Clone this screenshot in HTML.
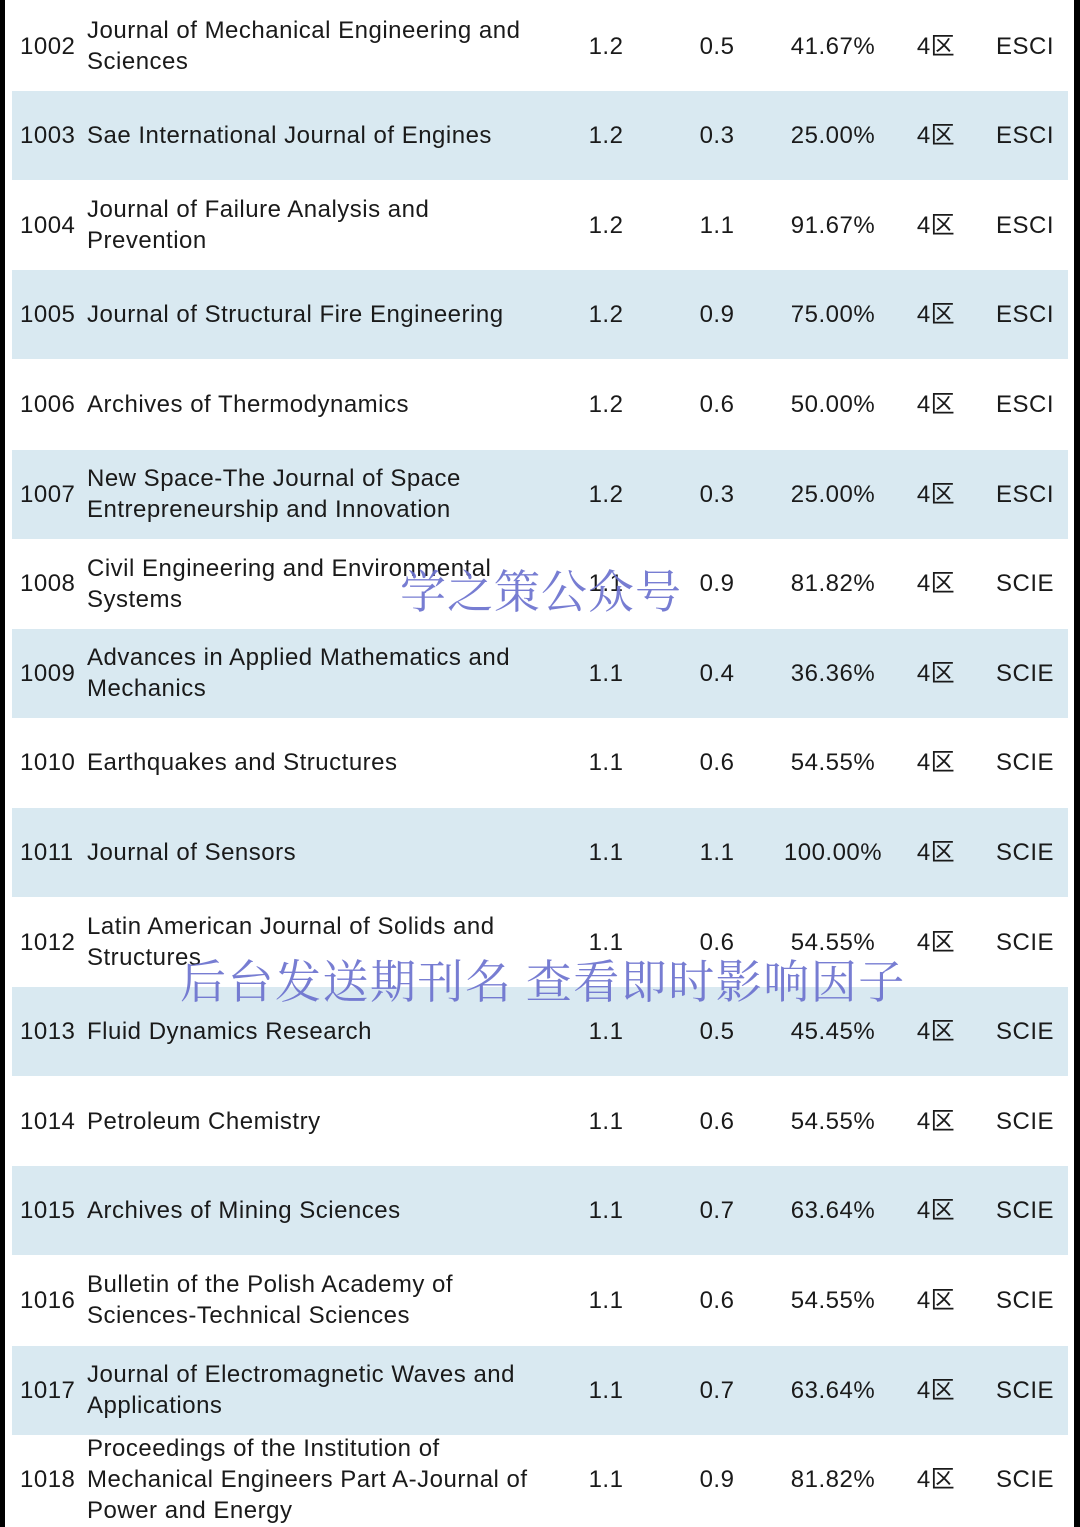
<!DOCTYPE html>
<html><head><meta charset="utf-8"><style>
body{margin:0;width:1080px;height:1527px;overflow:hidden;background:#fff;position:relative;font-family:"Liberation Sans","Noto Sans CJK SC",sans-serif;color:#1a1a1a}
.bl{position:absolute;left:0;top:0;width:5px;height:1527px;background:#000}
.br{position:absolute;right:0;top:0;width:6px;height:1527px;background:#000}
.row{position:absolute;left:12px;width:1056px;height:89px}
.row.s{background:#d9e9f1}
.c{position:absolute;top:0;height:89px;display:flex;align-items:center;font-size:24px;line-height:31px;letter-spacing:0.5px;white-space:nowrap}
.id{left:8px}
.nm{left:75px;width:480px}
.num{justify-content:center}
.wm{position:absolute;font-family:"Noto Serif CJK SC",serif;color:#6c72cf;opacity:.92;white-space:nowrap}
</style></head><body>
<div class="bl"></div>
<div class="br"></div>
<div id="tbl"></div>
<div class="wm" style="left:400px;top:556px;font-size:46px;letter-spacing:1px">学之策公众号</div>
<div class="wm" style="left:180px;top:946px;font-size:46px;letter-spacing:1.5px">后台发送期刊名 查看即时影响因子</div>
<script>
const ids=[1002,1003,1004,1005,1006,1007,1008,1009,1010,1011,1012,1013,1014,1015,1016,1017,1018];
const names=["Journal of Mechanical Engineering and<br>Sciences","Sae International Journal of Engines","Journal of Failure Analysis and<br>Prevention","Journal of Structural Fire Engineering","Archives of Thermodynamics","New Space-The Journal of Space<br>Entrepreneurship and Innovation","Civil Engineering and Environmental<br>Systems","Advances in Applied Mathematics and<br>Mechanics","Earthquakes and Structures","Journal of Sensors","Latin American Journal of Solids and<br>Structures","Fluid Dynamics Research","Petroleum Chemistry","Archives of Mining Sciences","Bulletin of the Polish Academy of<br>Sciences-Technical Sciences","Journal of Electromagnetic Waves and<br>Applications","Proceedings of the Institution of<br>Mechanical Engineers Part A-Journal of<br>Power and Energy"];
const ifs=["1.2","1.2","1.2","1.2","1.2","1.2","1.1","1.1","1.1","1.1","1.1","1.1","1.1","1.1","1.1","1.1","1.1"];
const v2=["0.5","0.3","1.1","0.9","0.6","0.3","0.9","0.4","0.6","1.1","0.6","0.5","0.6","0.7","0.6","0.7","0.9"];
const pct=["41.67%","25.00%","91.67%","75.00%","50.00%","25.00%","81.82%","36.36%","54.55%","100.00%","54.55%","45.45%","54.55%","63.64%","54.55%","63.64%","81.82%"];
const zone=Array(17).fill("4区");
const idx=["ESCI","ESCI","ESCI","ESCI","ESCI","ESCI","SCIE","SCIE","SCIE","SCIE","SCIE","SCIE","SCIE","SCIE","SCIE","SCIE","SCIE"];
const rowH=89.6, top0=1.5;
const tbl=document.getElementById('tbl');
function cell(row,cls,html,center,name){
  const d=document.createElement('div');
  d.className='c '+cls;
  if(center!==null){d.style.left=(center-12-70)+'px';d.style.width='140px';}
  d.innerHTML=html;
  
  
  row.appendChild(d);
}
ids.forEach((id,i)=>{
  const r=document.createElement('div');
  r.className='row'+(i%2?' s':'');
  r.style.top=(top0+i*rowH)+'px';
  
  
  cell(r,'id',id,null,'row-number');
  cell(r,'nm',names[i],null,'journal-name');
  cell(r,'num',ifs[i],606,'impact-factor');
  cell(r,'num',v2[i],717,'secondary-value');
  cell(r,'num',pct[i],833,'percentage');
  cell(r,'num',zone[i],936,'zone');
  cell(r,'num',idx[i],1025,'index-type');
  if(i===ids.length-1){r.style.height='60px';}
  tbl.appendChild(r);
});
</script>
</body></html>
